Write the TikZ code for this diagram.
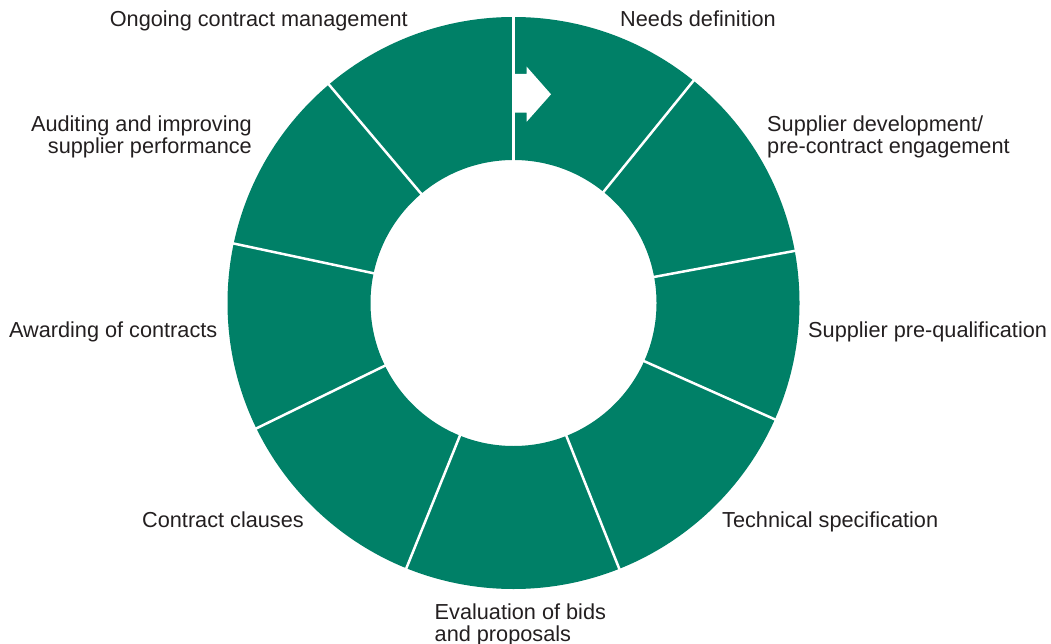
\documentclass[tikz,border=0pt]{standalone}
\usepackage{fontspec}
\setmainfont{Liberation Sans}
\definecolor{ringgreen}{RGB}{0,128,103}
\definecolor{labelgray}{RGB}{35,31,32}
\begin{document}
\begin{tikzpicture}[x=1pt,y=1pt,
  lbl/.style={inner sep=0pt, text=labelgray, font=\fontsize{21.7}{21.7}\selectfont},
  lblL/.style={lbl, align=left},
  lblR/.style={lbl, align=right},
  divider/.style={draw=white, line width=2.5pt},
  ring/.style={fill=ringgreen, even odd rule},
  arrowmark/.style={fill=white}
]
\useasboundingbox (0,0) rectangle (1051,-644);
\coordinate (c) at (513.5,-303);
\fill[ring] (c) circle[radius=286] (c) circle[radius=143];
\begin{scope}[shift={(c)}]
  \foreach \a in {90,51,10.5,-24,-68.3,-112,-154,168,130.2}
    \draw[divider] (\a:141) -- (\a:288);
\end{scope}
\fill[arrowmark] (514.5,-74) -- (526.7,-74) -- (526.7,-66.7) -- (551,-94.3)
  -- (526.7,-121.7) -- (526.7,-112.7) -- (514.5,-112.7) -- cycle;

\node[lbl, anchor=base west] (needs) at (620,-27) {Needs definition};
\node[lblL, anchor=base west] (supdev) at (767,-153.4) {Supplier development/\\pre-contract engagement};
\node[lbl, anchor=base west] (preq) at (808,-337) {Supplier pre-qualification};
\node[lbl, anchor=base west] (tech) at (722,-527.5) {Technical specification};
\node[lblL, anchor=base west] (eval) at (434.5,-641.5) {Evaluation of bids\\and proposals};
\node[lbl, anchor=base east] (clauses) at (304,-527.5) {Contract clauses};
\node[lbl, anchor=base east] (award) at (217.5,-337) {Awarding of contracts};
\node[lblR, anchor=base east] (audit) at (252,-153.4) {Auditing and improving\\supplier performance};
\node[lbl, anchor=base east] (ongoing) at (408,-27) {Ongoing contract management};
\end{tikzpicture}
\end{document}
